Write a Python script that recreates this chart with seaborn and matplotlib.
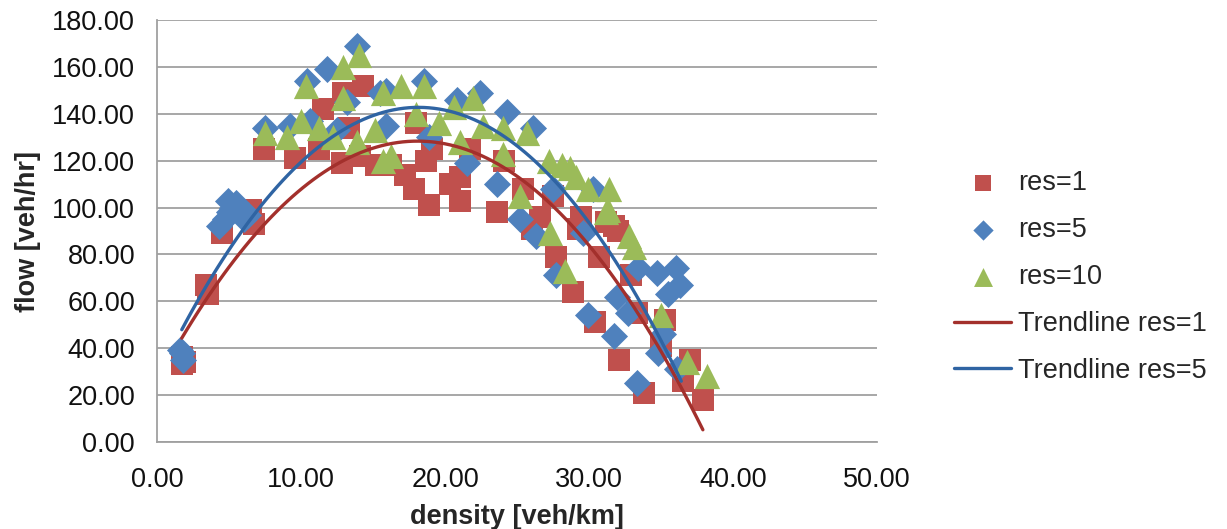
# =====================================================
# FLOW vs DENSITY SCATTER WITH TRENDLINES
# =====================================================

import numpy as np
import pandas as pd
import matplotlib
matplotlib.use("Agg")
import matplotlib.pyplot as plt
import seaborn as sns

# ---------------- DATA ----------------

# res=1 (red squares)
res1_density = [1.7, 1.7, 1.9, 3.4, 3.5, 4.5, 6.5, 6.7, 7.4, 9.6, 11.2, 11.5,
                12.8, 12.9, 13.3, 14.1, 14.3, 15.2, 16.2, 17.2, 17.8, 18.0, 18.7,
                18.9, 19.1, 20.3, 21.0, 21.0, 21.7, 23.6, 24.1, 25.4, 26.0, 26.6,
                27.5, 27.7, 28.9, 29.2, 29.4, 30.4, 30.7, 31.2, 31.7, 32.0, 32.1,
                32.9, 33.3, 33.8, 35.0, 35.3, 36.5, 37.0, 37.9]
res1_flow = [36, 33, 34, 67, 63, 89, 99, 93, 125, 121, 125, 142,
             119, 149, 134, 122, 152, 118, 118, 114, 108, 136, 120,
             101, 125, 110, 113, 103, 125, 98, 120, 108, 91, 96,
             105, 79, 64, 91, 96, 51, 79, 94, 92, 90, 35,
             71, 55, 21, 41, 52, 26, 35, 18]

# res=5 (blue diamonds)
res5_density = [1.7, 1.8, 1.6, 4.3, 4.7, 4.9, 5.0, 5.2, 5.5, 5.8, 6.0, 6.3,
                7.5, 9.2, 10.4, 10.6, 11.8, 12.5, 13.2, 13.9, 15.5, 15.9, 15.9,
                18.5, 18.9, 20.8, 21.5, 22.4, 23.6, 24.3, 25.2, 26.1, 26.3, 27.5,
                27.7, 29.6, 29.9, 30.3, 31.7, 31.9, 32.7, 33.3, 33.4, 34.7, 34.8,
                35.1, 35.5, 36.0, 36.1, 36.3]
res5_flow = [38, 35, 39, 92, 95, 103, 98, 100, 102, 99, 95, 97,
             134, 135, 154, 137, 159, 133, 145, 169, 149, 150, 135,
             154, 130, 146, 119, 149, 110, 141, 95, 134, 88, 108,
             71, 89, 54, 108, 45, 62, 55, 25, 74, 72, 38,
             46, 63, 74, 31, 67]

# res=10 (green triangles)
res10_density = [7.5, 9.0, 10.0, 10.3, 11.2, 12.2, 12.9, 12.9, 13.9, 14.0, 15.1,
                 15.7, 15.7, 16.2, 16.9, 18.0, 18.5, 19.6, 20.6, 21.0, 21.9, 22.6,
                 24.0, 24.0, 25.2, 25.7, 27.2, 27.3, 28.1, 28.3, 28.7, 29.1, 29.9,
                 31.2, 31.3, 31.4, 32.8, 33.1, 35.0, 36.8, 38.2]
res10_flow = [132, 130, 137, 152, 134, 130, 160, 147, 128, 165, 133,
              149, 120, 122, 152, 140, 152, 136, 143, 128, 147, 135,
              134, 123, 105, 132, 120, 89, 118, 73, 117, 113, 108,
              98, 99, 108, 88, 83, 54, 34, 28]

# trendline samples (Excel 2nd order polynomial trendlines)
trend1_density = [1.7, 2.7, 9.0, 16.2, 18.2, 21.3, 24.7, 27.5, 29.8, 32.4, 34.9, 37.9]
trend1_flow = [43, 55, 103, 128, 129, 125, 114, 100, 85, 62, 42, 5]
trend5_density = [1.7, 5.1, 7.4, 12.9, 16.2, 18.2, 22.4, 25.9, 28.4, 31.7, 34.4, 36.4]
trend5_flow = [47, 85, 103, 130, 142, 142, 137, 123, 107, 78, 49, 26]

x_ticks = [0, 10, 20, 30, 40, 50]
y_ticks = [0, 20, 40, 60, 80, 100, 120, 140, 160, 180]

df1 = pd.DataFrame({"density": res1_density, "flow": res1_flow})
df5 = pd.DataFrame({"density": res5_density, "flow": res5_flow})
df10 = pd.DataFrame({"density": res10_density, "flow": res10_flow})

# ---------------- STYLE ----------------

sns.set_style("white")
plt.rcParams["font.family"] = ["Liberation Sans", "DejaVu Sans"]

grid_gray = "#a0a0a0"

fig, ax = plt.subplots(figsize=(12.27, 5.29), dpi=100)
fig.subplots_adjust(left=0.1282, right=0.7148, bottom=0.165, top=0.9616)

# ---------------- SCATTER ----------------

sns.scatterplot(data=df1, x="density", y="flow", marker="s", s=260,
                color="#c0504d", linewidth=0, label="res=1", ax=ax, zorder=3)
sns.scatterplot(data=df5, x="density", y="flow", marker="D", s=190,
                color="#4f81bd", linewidth=0, label="res=5", ax=ax, zorder=4)
sns.scatterplot(data=df10, x="density", y="flow", marker="^", s=330,
                color="#9bbb59", linewidth=0, label="res=10", ax=ax, zorder=5)

# ---------------- TRENDLINES (2nd order polynomial) ----------------

sns.regplot(x=trend1_density, y=trend1_flow, order=2, ci=None, scatter=False,
            truncate=True, color="#a3302c", line_kws={"lw": 2.4, "zorder": 6},
            label="Trendline res=1", ax=ax)
sns.regplot(x=trend5_density, y=trend5_flow, order=2, ci=None, scatter=False,
            truncate=True, color="#2f64a3", line_kws={"lw": 2.4, "zorder": 7},
            label="Trendline res=5", ax=ax)

# ---------------- AXES ----------------

ax.set_xlim(0, 50)
ax.set_ylim(0, 180)
ax.set_xticks(x_ticks)
ax.set_yticks(y_ticks)
ax.set_xticklabels([f"{v:.2f}" for v in x_ticks])
ax.set_yticklabels([f"{v:.2f}" for v in y_ticks])

ax.yaxis.grid(True, color=grid_gray, linewidth=1.3, zorder=0)
ax.xaxis.grid(False)
ax.set_axisbelow(True)

for side in ["top", "right"]:
    ax.spines[side].set_visible(False)
for side in ["left", "bottom"]:
    ax.spines[side].set_color(grid_gray)
    ax.spines[side].set_linewidth(1.3)

ax.tick_params(axis="both", direction="out", length=7, width=1.3,
               color=grid_gray, labelsize=19.5, labelcolor="#111111")
ax.tick_params(axis="y", pad=9)
ax.tick_params(axis="x", pad=11)

ax.set_xlabel("density [veh/km]", fontsize=19.5, fontweight="bold", labelpad=8)
ax.set_ylabel("flow [veh/hr]", fontsize=19.5, fontweight="bold", labelpad=8)

# ---------------- LEGEND ----------------

ax.legend(loc="center left", bbox_to_anchor=(0.758, 0.476),
          bbox_transform=fig.transFigure, frameon=False, fontsize=19.5,
          handlelength=2.1, handletextpad=0.26, labelspacing=0.77,
          markerscale=0.75)

plt.savefig("out.png", dpi=100)
